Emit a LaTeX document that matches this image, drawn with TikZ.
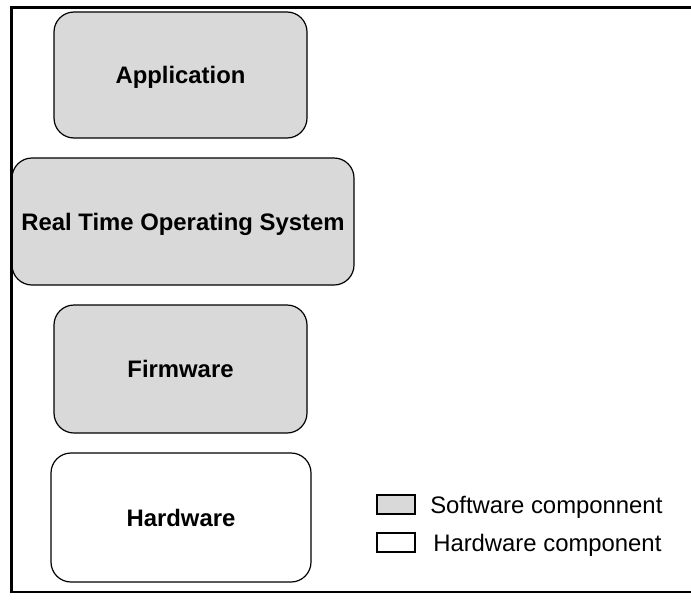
\documentclass[tikz,border=0pt]{standalone}
\usepackage{fontspec}
\setmainfont{Liberation Sans}
\begin{document}
\begin{tikzpicture}[x=0.75pt,y=-0.75pt,
  layer/.style={draw=black,line width=0.9pt,rounded corners=15pt,inner sep=0pt,outer sep=0pt,
    font=\fontsize{17.9}{21}\selectfont\bfseries,align=center,text height=12.9pt,text depth=0pt},
  soft/.style={layer,fill=swgray},
  hard/.style={layer,fill=white},
  keybox/.style={draw=black,line width=0.9pt,inner sep=0pt,minimum width=28.5pt,minimum height=14.25pt},
  keytext/.style={anchor=west,inner sep=0pt,font=\fontsize{17.9}{21}\selectfont,text height=12.9pt,text depth=0pt},
  frameline/.style={line width=2.25pt}]
\definecolor{swgray}{HTML}{D9D9D9}
\useasboundingbox (0,0) rectangle (691,603);

% stack of layers
\node[soft,minimum width=189.75pt,minimum height=94.5pt] (app) at (180.5,75) {Application};
\node[soft,minimum width=256.5pt,minimum height=95.25pt] (rtos) at (183,221.5) {Real Time Operating System};
\node[soft,minimum width=189.75pt,minimum height=96pt] (fw) at (180.5,369) {Firmware};
\node[hard,minimum width=195pt,minimum height=96.75pt] (hw) at (181,517.5) {Hardware};

% legend
\node[keybox,fill=swgray] (ksw) at (396,504.5) {};
\node[keybox,fill=white] (khw) at (396,542.5) {};
\node[keytext] (tsw) at (430,504.5) {Software componnent};
\node[keytext] (thw) at (433,542.5) {Hardware component};

% frame
\draw[frameline] (10,7.5) -- (691,7.5);
\draw[frameline] (11.5,6) -- (11.5,592.5);
\draw[line width=1.2pt] (10,592) -- (691,592);
\end{tikzpicture}
\end{document}
